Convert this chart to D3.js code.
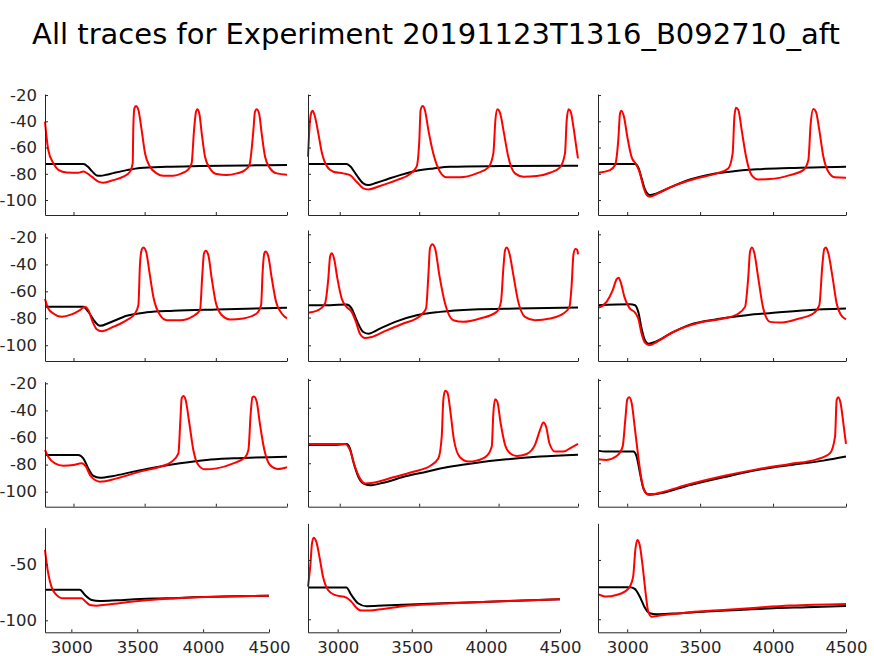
<!DOCTYPE html>
<html>
<head>
<meta charset="utf-8">
<script src="https://cdn.jsdelivr.net/npm/d3@7"></script>
<style>
  body { margin: 0; background: #fff; }
  text { font-family: "DejaVu Sans", sans-serif; }
</style>
</head>
<body>
<div id="chart"></div>
<script>
// traces: [time ms, voltage mV]
var blackR1C1 = [[2800,-72.6],[3070,-72.6],[3100,-74.5],[3130,-78],[3163,-81.3],[3190,-81.5],[3230,-80.8],[3280,-79.5],[3374,-77.2],[3467,-75.5],[3655,-74.6],[3889,-74.1],[4240,-73.6],[4500,-73.3]];
var redR1C1 = [[2800,-40.3],[2823,-61.9],[2859,-72],[2894,-77],[2952,-79],[3034,-79.2],[3069,-78.2],[3128,-82.2],[3175,-86],[3210,-86.8],[3280,-84.8],[3350,-82.2],[3397,-78.4],[3416,-72],[3420,-46.7],[3428,-30.2],[3439,-28.4],[3456,-31.4],[3479,-46.7],[3503,-64.5],[3538,-74.6],[3585,-79.7],[3631,-81.5],[3702,-81.5],[3760,-79.7],[3807,-76.6],[3830,-72],[3847,-46.7],[3861,-32.7],[3870,-30.9],[3884,-34],[3901,-49.2],[3924,-67],[3959,-75.9],[4006,-80.2],[4076,-81],[4147,-79.7],[4205,-77.2],[4236,-73.3],[4264,-46.7],[4275,-32.7],[4287,-30.9],[4304,-34],[4322,-49.2],[4346,-67],[4381,-75.9],[4428,-79.7],[4500,-80.7]];

var blackR1C2 = [[2800,-72.6],[3043,-72.6],[3064,-74.1],[3106,-81],[3148,-87.3],[3180,-88.6],[3232,-86.8],[3295,-84.3],[3379,-81],[3484,-77.7],[3589,-75.9],[3694,-74.6],[4009,-74.1],[4500,-73.8]];
var redR1C2 = [[2800,-67],[2813,-39],[2823,-32.7],[2829,-31.9],[2844,-36.5],[2865,-49.2],[2886,-63.2],[2918,-74.1],[2960,-78.4],[3022,-79.7],[3064,-81],[3106,-86],[3148,-91.1],[3180,-91.9],[3253,-89.3],[3358,-84.8],[3442,-80.2],[3484,-74.6],[3501,-54.3],[3509,-31.4],[3522,-28.4],[3537,-31.9],[3558,-46.7],[3589,-64.5],[3631,-78.4],[3673,-82.7],[3757,-82.7],[3862,-79.7],[3936,-75.1],[3967,-64.5],[3980,-39],[3992,-30.9],[4009,-33.5],[4034,-49.2],[4061,-67],[4103,-79.7],[4156,-82.2],[4240,-81.7],[4324,-79.2],[4387,-75.1],[4418,-64.5],[4429,-39],[4441,-30.9],[4454,-32.7],[4471,-44.1],[4492,-61.9],[4500,-68.3]];

var blackR1C3 = [[2800,-72.6],[3054,-72.6],[3076,-75.1],[3099,-83.5],[3122,-91.9],[3156,-96.2],[3202,-94.9],[3294,-90.4],[3431,-84.3],[3545,-81],[3705,-78.4],[3888,-76.6],[4116,-75.6],[4500,-74.6]];
var redR1C3 = [[2800,-79.2],[2882,-77.2],[2917,-73.3],[2939,-54.3],[2951,-34],[2960,-31.9],[2978,-36.5],[3001,-51.8],[3031,-67.5],[3065,-73.3],[3088,-79.7],[3111,-89.9],[3134,-96.2],[3156,-97.5],[3202,-95.4],[3316,-89.3],[3476,-83.5],[3613,-79.7],[3693,-75.9],[3723,-64.5],[3735,-36.5],[3746,-29.7],[3762,-31.4],[3785,-46.7],[3815,-67],[3853,-81],[3899,-84.3],[3979,-84],[4116,-81],[4208,-77.2],[4242,-69.5],[4258,-41.6],[4276,-30.7],[4294,-32.7],[4317,-46.7],[4345,-67],[4379,-78.4],[4425,-82.7],[4500,-83]];

var blackR2C1 = [[2800,-71.4],[3069,-71.4],[3104,-75.1],[3151,-82.6],[3186,-85.6],[3257,-83.1],[3374,-78.1],[3514,-75.6],[3702,-74.4],[4006,-73.4],[4500,-72.2]];
var redR2C1 = [[2800,-65.7],[2823,-72.7],[2859,-76.4],[2917,-78.9],[2987,-77.1],[3046,-73.9],[3081,-71.4],[3104,-73.9],[3135,-82.6],[3163,-88.1],[3198,-89.6],[3280,-86.3],[3374,-81.4],[3432,-76.4],[3456,-70.2],[3467,-40.4],[3479,-29.2],[3491,-27.5],[3510,-30.4],[3533,-45.3],[3561,-64],[3608,-77.6],[3655,-81.4],[3749,-81.4],[3842,-78.4],[3889,-73.9],[3905,-47.8],[3917,-31.7],[3929,-29.9],[3948,-33.4],[3971,-50.3],[4001,-68.9],[4041,-77.6],[4100,-80.9],[4193,-80.1],[4287,-76.4],[4318,-70.2],[4329,-45.3],[4341,-31.7],[4350,-30.4],[4369,-34.2],[4393,-50.3],[4423,-67.7],[4463,-76.4],[4500,-80.1]];

var blackR2C2 = [[2800,-71.1],[2940,-71.1],[3043,-70.6],[3075,-73.5],[3106,-81.9],[3148,-90.4],[3180,-91.6],[3253,-88],[3358,-82.7],[3484,-78.3],[3631,-75.9],[3841,-74.2],[4114,-73.5],[4500,-72.8]];
var redR2C2 = [[2800,-76.6],[2865,-74.7],[2907,-69.9],[2928,-51.8],[2939,-36.1],[2949,-33.7],[2964,-37.4],[2985,-51.8],[3012,-66.3],[3043,-72.3],[3075,-75.9],[3102,-83.1],[3127,-91.6],[3159,-94.7],[3201,-94],[3295,-89.2],[3400,-84.3],[3505,-78.8],[3543,-73.5],[3558,-49.4],[3568,-30.1],[3583,-27.2],[3600,-30.1],[3627,-49.4],[3663,-69.9],[3715,-81.9],[3778,-83.1],[3883,-80.7],[3988,-75.9],[4015,-68.7],[4030,-44.6],[4041,-31.3],[4051,-29.6],[4068,-33.7],[4093,-49.4],[4124,-68.7],[4166,-79.5],[4229,-81.9],[4324,-80.7],[4408,-77.1],[4446,-72.3],[4460,-56.6],[4471,-34.9],[4483,-30.6],[4496,-31.3],[4500,-34.5]];

var blackR2C3 = [[2800,-71.1],[3019,-70.4],[3054,-71.1],[3076,-75.9],[3099,-88],[3122,-96.4],[3145,-98.8],[3191,-97.6],[3294,-91.6],[3431,-85.1],[3613,-81.2],[3819,-78.3],[4025,-76.4],[4230,-74.7],[4500,-73.5]];
var redR2C3 = [[2800,-73],[2859,-68.7],[2901,-60.2],[2928,-52.3],[2942,-51.3],[2958,-55.4],[2981,-65.1],[3015,-73],[3054,-76.4],[3076,-80.7],[3099,-91.6],[3122,-98.1],[3152,-100],[3202,-97.6],[3316,-90.4],[3499,-83.6],[3659,-80.7],[3751,-77.8],[3808,-72.3],[3831,-49.4],[3842,-32.5],[3856,-29.6],[3872,-33.7],[3899,-51.8],[3933,-73.5],[3979,-83.1],[4048,-83.6],[4162,-81.2],[4276,-77.1],[4317,-71.1],[4338,-42.2],[4351,-30.6],[4363,-29.6],[4379,-33.7],[4409,-51.8],[4436,-69.9],[4463,-77.8],[4500,-81.2]];

var blackR3C1 = [[2800,-72.9],[3034,-72.9],[3069,-75.4],[3104,-82.8],[3140,-88.4],[3186,-89.7],[3280,-88.4],[3421,-85.2],[3561,-82.3],[3749,-79.1],[3936,-76.6],[4123,-75.4],[4500,-74.2]];
var redR3C1 = [[2800,-69.2],[2823,-74.2],[2870,-79.1],[2929,-80.8],[2999,-80.3],[3058,-79.1],[3088,-81.6],[3116,-87.7],[3151,-91.4],[3186,-92.6],[3304,-90.2],[3467,-85.2],[3608,-81.6],[3690,-77.9],[3737,-71.7],[3751,-47.1],[3760,-31.1],[3772,-29.4],[3788,-32.3],[3814,-49.5],[3842,-69.2],[3877,-80.3],[3924,-83.5],[4006,-82.8],[4123,-79.1],[4205,-74.7],[4229,-69.2],[4245,-42.2],[4257,-30.3],[4268,-29.8],[4287,-33.5],[4311,-50.8],[4341,-69.2],[4381,-80.3],[4439,-83.3],[4500,-82]];

var blackR3C2 = [[2800,-66.8],[2970,-66.8],[3043,-66.1],[3064,-69.2],[3085,-78.8],[3117,-89.7],[3148,-94.5],[3190,-95.9],[3274,-94],[3421,-89.2],[3547,-86.1],[3673,-82.9],[3841,-80],[4051,-77.2],[4261,-75.2],[4500,-73.8]];
var redR3C2 = [[2800,-66.1],[3033,-66.1],[3064,-70.4],[3096,-82.5],[3127,-90.9],[3159,-94.5],[3211,-94],[3337,-90.1],[3463,-86.1],[3568,-82],[3621,-76.4],[3642,-60.8],[3652,-34.4],[3663,-27.7],[3678,-29.1],[3698,-44],[3719,-63.2],[3757,-75.7],[3810,-78.8],[3862,-78.1],[3925,-74.8],[3957,-68],[3967,-44],[3978,-33.9],[3992,-35.6],[4013,-51.2],[4041,-66.8],[4072,-72.8],[4114,-74.8],[4177,-73.3],[4229,-66.8],[4261,-56],[4282,-50.7],[4299,-53.6],[4320,-65.6],[4355,-71.6],[4408,-71.6],[4460,-68.5],[4500,-66.1]];

var blackR3C3 = [[2800,-70.9],[2850,-71.6],[3042,-71.6],[3065,-75.2],[3088,-87.3],[3111,-98.1],[3145,-102.4],[3202,-102.1],[3431,-95.7],[3659,-90.1],[3888,-84.9],[4116,-81.3],[4345,-78.1],[4500,-75.2]];
var redR3C3 = [[2800,-77.2],[2859,-77.6],[2928,-74.8],[2969,-68],[2987,-48.8],[3001,-33.9],[3015,-32.5],[3031,-36.8],[3054,-56],[3076,-75.2],[3099,-92.1],[3122,-100.5],[3152,-102.9],[3225,-101.2],[3431,-95],[3659,-89.2],[3888,-84.4],[4116,-80.5],[4299,-77.2],[4390,-72.8],[4425,-60.8],[4436,-34.4],[4447,-32.5],[4463,-36.8],[4482,-51.2],[4500,-66.1]];

var blackR4C1 = [[2800,-72.6],[3065,-72.6],[3103,-77.4],[3154,-81.8],[3217,-82.7],[3343,-82.1],[3520,-80.9],[3722,-80.4],[3975,-79.2],[4227,-78.6],[4500,-78]];
var redR4C1 = [[2800,-37.2],[2818,-53.6],[2838,-65.5],[2876,-75.9],[2939,-80.4],[3040,-80.4],[3078,-80.4],[3103,-82.7],[3141,-86.3],[3192,-86.9],[3293,-85.7],[3469,-83.3],[3671,-81.2],[3874,-79.8],[4101,-78.9],[4354,-78.3],[4500,-78]];

var blackR4C2 = [[2800,-73.3],[3059,-73.3],[3092,-79.5],[3137,-86.5],[3194,-89],[3306,-88.5],[3531,-87.4],[3756,-86.2],[3981,-85.4],[4206,-84.3],[4500,-83.1]];
var redR4C2 = [[2800,-72.5],[2816,-54.2],[2827,-36],[2838,-31.2],[2856,-34.6],[2879,-48.6],[2901,-64],[2935,-75.3],[2980,-79.5],[3059,-81.7],[3092,-85.1],[3126,-90.2],[3160,-92.7],[3216,-92.7],[3306,-91.3],[3486,-88.5],[3711,-86.8],[3936,-85.7],[4206,-84.3],[4500,-83.1]];

var blackR4C3 = [[2800,-73],[3018,-73],[3052,-74.4],[3086,-80.9],[3121,-90.2],[3155,-94.9],[3201,-95.8],[3315,-95.2],[3545,-93.5],[3774,-92.1],[4003,-90.7],[4232,-89.9],[4500,-88.8]];
var redR4C3 = [[2800,-78.9],[2857,-80.9],[2926,-79.5],[2983,-76.7],[3018,-72.5],[3041,-64],[3057,-40.2],[3070,-33.1],[3086,-37.4],[3105,-54.2],[3128,-79.5],[3144,-93.5],[3167,-97.8],[3224,-96.9],[3430,-94.1],[3659,-92.1],[3888,-90.2],[4117,-88.5],[4500,-87.1]];

var xTicks = [3000, 3500, 4000, 4500];
var yTicksFull = [-20, -40, -60, -80, -100];
var yTicksLast = [-50, -100];
var titleText = "All traces for Experiment 20191123T1316_B092710_aft";

var svgWidth = 874;
var svgHeight = 656;

var svg = d3.select("#chart")
    .append("svg")
    .attr("width", svgWidth)
    .attr("height", svgHeight);

svg.append("rect")
    .attr("width", svgWidth)
    .attr("height", svgHeight)
    .attr("fill", "#fff");

svg.append("text")
    .attr("x", 436)
    .attr("y", 44)
    .attr("text-anchor", "middle")
    .attr("font-size", "29px")
    .attr("fill", "#000")
    .text(titleText);

// subplot boxes (pixels) and y limits
var panels = [
    {b: blackR1C1, r: redR1C1, x0: 45, x1: 287, y0: 94, y1: 215, lo: -111.4, hi: -19.2, ticks: yTicksFull, lab: true},
    {b: blackR1C2, r: redR1C2, x0: 308, x1: 578, y0: 94, y1: 215, lo: -111.4, hi: -19.2, ticks: yTicksFull, lab: false},
    {b: blackR1C3, r: redR1C3, x0: 598, x1: 846, y0: 94, y1: 215, lo: -111.4, hi: -19.2, ticks: yTicksFull, lab: false},
    {b: blackR2C1, r: redR2C1, x0: 45, x1: 287, y0: 233, y1: 361, lo: -111.7, hi: -16.7, ticks: yTicksFull, lab: true},
    {b: blackR2C2, r: redR2C2, x0: 308, x1: 578, y0: 230, y1: 361, lo: -111.3, hi: -16.9, ticks: yTicksFull, lab: false},
    {b: blackR2C3, r: redR2C3, x0: 598, x1: 846, y0: 230, y1: 361, lo: -111.3, hi: -16.9, ticks: yTicksFull, lab: false},
    {b: blackR3C1, r: redR3C1, x0: 45, x1: 287, y0: 381.7, y1: 506.7, lo: -111.1, hi: -18.8, ticks: yTicksFull, lab: true},
    {b: blackR3C2, r: redR3C2, x0: 308, x1: 578, y0: 378.3, y1: 506.7, lo: -111.3, hi: -18.8, ticks: yTicksFull, lab: false},
    {b: blackR3C3, r: redR3C3, x0: 598, x1: 846, y0: 378.3, y1: 506.7, lo: -111.3, hi: -18.8, ticks: yTicksFull, lab: false},
    {b: blackR4C1, r: redR4C1, x0: 45, x1: 269, y0: 527.7, y1: 632.3, lo: -110.7, hi: -17.3, ticks: yTicksLast, lab: true, xl: true},
    {b: blackR4C2, r: redR4C2, x0: 308, x1: 560, y0: 523.3, y1: 632.3, lo: -111, hi: -19.1, ticks: yTicksLast, lab: false, xl: true},
    {b: blackR4C3, r: redR4C3, x0: 598, x1: 846, y0: 523.3, y1: 632.3, lo: -111, hi: -19.1, ticks: yTicksLast, lab: false, xl: true}
];

var axisColor = "#262626";
// plain hyphen minus, like the original
var plainNum = d => String(d);

panels.forEach(function (p) {
    var x = d3.scaleLinear().domain([2800, 4500]).range([p.x0, p.x1]);
    var y = d3.scaleLinear().domain([p.lo, p.hi]).range([p.y1, p.y0]);

    var g = svg.append("g");

    var line = d3.line()
        .x(d => x(d[0]))
        .y(d => y(d[1]))
        .curve(d3.curveMonotoneX);

    g.append("path")
        .datum(p.b)
        .attr("d", line)
        .attr("fill", "none")
        .attr("stroke", "#000")
        .attr("stroke-width", 2);

    g.append("path")
        .datum(p.r)
        .attr("d", line)
        .attr("fill", "none")
        .attr("stroke", "#ff0000")
        .attr("stroke-width", 2);

    // x axis, ticks inside
    var xAxis = d3.axisBottom(x)
        .tickValues(xTicks)
        .tickSizeInner(-3)
        .tickSizeOuter(0)
        .tickPadding(9)
        .tickFormat(p.xl ? plainNum : "");

    var xg = g.append("g")
        .attr("transform", `translate(0, ${p.y1})`)
        .call(xAxis);

    // y axis, ticks inside
    var yAxis = d3.axisLeft(y)
        .tickValues(p.ticks)
        .tickSizeInner(-3)
        .tickSizeOuter(0)
        .tickPadding(8)
        .tickFormat(p.lab ? plainNum : "");

    var yg = g.append("g")
        .attr("transform", `translate(${p.x0}, 0)`)
        .call(yAxis);

    [xg, yg].forEach(function (a) {
        a.select(".domain").attr("stroke", axisColor).attr("stroke-width", 1);
        a.selectAll(".tick line").attr("stroke", axisColor);
        a.selectAll(".tick text")
            .attr("fill", axisColor)
            .attr("font-size", "16.5px")
            .attr("font-family", "DejaVu Sans, sans-serif");
    });
});
</script>
</body>
</html>
